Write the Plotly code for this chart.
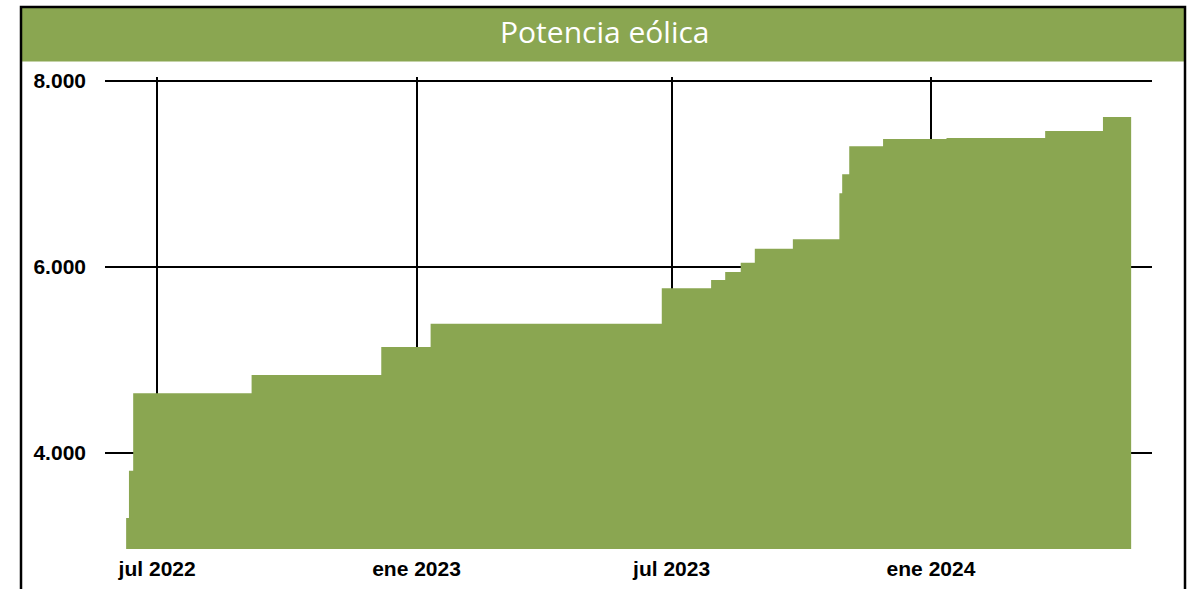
import plotly.graph_objects as go

# Installed wind power capacity (MW), stepwise by commissioning date
step_dates = [
    "2022-06-09", "2022-06-11", "2022-06-14", "2022-09-06", "2022-12-07",
    "2023-01-11", "2023-06-24", "2023-07-29", "2023-08-08", "2023-08-19",
    "2023-08-29", "2023-09-25", "2023-10-28", "2023-10-30", "2023-11-04",
    "2023-11-28", "2024-01-12", "2024-03-22", "2024-05-02", "2024-05-22",
]
capacity_mw = [
    3300, 3810, 4642, 4839, 5140,
    5390, 5771, 5860, 5946, 6046,
    6197, 6298, 6792, 6997, 7298,
    7376, 7387, 7462, 7613, 7613,
]

tick_dates = ["2022-07-01", "2023-01-01", "2023-07-01", "2024-01-01"]
tick_labels = ["jul 2022", "ene 2023", "jul 2023", "ene 2024"]
y_ticks = [4000, 6000, 8000]
y_tick_labels = ["4.000", "6.000", "8.000"]

GREEN = "#8AA651"
W, H = 1200, 589
L, R, T, B = 105, 48, 77, 40
pw, ph = W - L - R, H - T - B


def px_x(x):
    return (x - L) / pw


def px_y(y):
    return (H - B - y) / ph


fig = go.Figure()
fig.add_trace(go.Scatter(
    x=step_dates, y=capacity_mw,
    mode="lines", line=dict(shape="hv", width=0, color=GREEN),
    fill="tozeroy", fillcolor=GREEN, hoverinfo="skip", showlegend=False,
))

tick_font = dict(family="Liberation Sans", size=21, color="black", weight="bold")

fig.update_layout(
    width=W, height=H,
    margin=dict(l=L, r=R, t=T, b=B),
    paper_bgcolor="white", plot_bgcolor="white",
    xaxis=dict(
        type="date", range=["2022-05-25", "2024-06-05 19:00"],
        tickvals=tick_dates, ticktext=tick_labels,
        showgrid=True, gridcolor="black", gridwidth=2,
        showline=False, zeroline=False, ticks="",
        tickfont=tick_font, ticklabelstandoff=5, automargin=False,
    ),
    yaxis=dict(
        range=[2968, 8043],
        tickvals=y_ticks, ticktext=y_tick_labels,
        showgrid=True, gridcolor="black", gridwidth=2,
        showline=False, zeroline=False, ticks="",
        tickfont=tick_font, ticklabelstandoff=18, automargin=False,
    ),
    shapes=[
        dict(type="rect", xref="paper", yref="paper", layer="above",
             x0=px_x(21), x1=px_x(1185), y0=px_y(61.5), y1=px_y(8),
             fillcolor=GREEN, line=dict(width=0)),
        dict(type="rect", xref="paper", yref="paper", layer="above",
             x0=px_x(21), x1=px_x(1185), y0=px_y(620), y1=px_y(7),
             fillcolor="rgba(0,0,0,0)", line=dict(color="black", width=2.5)),
    ],
    annotations=[
        dict(text="Potencia eólica", xref="paper", yref="paper",
             x=px_x(605), y=px_y(32), xanchor="center", yanchor="middle",
             showarrow=False,
             font=dict(family="Open Sans", size=30, color="white")),
    ],
)

fig.write_html("out.html")
